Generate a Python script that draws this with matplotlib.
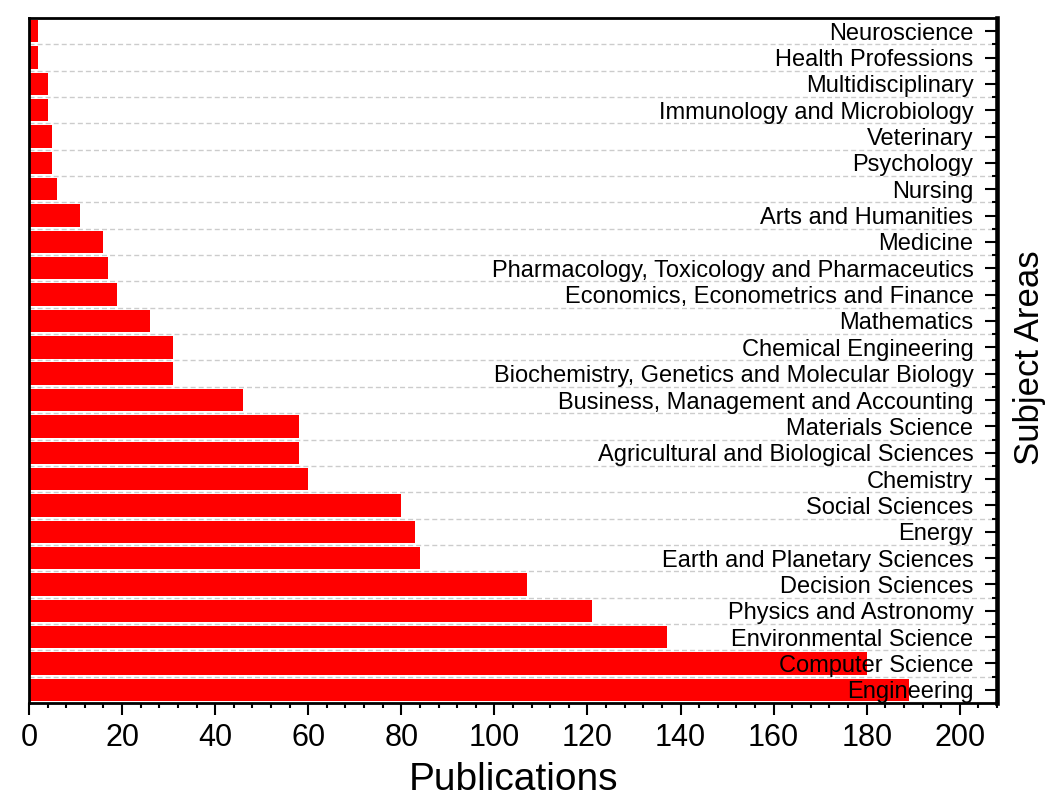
import matplotlib
matplotlib.use("Agg")
import matplotlib.pyplot as plt
from matplotlib.ticker import MultipleLocator, FixedLocator

plt.rcParams['font.family'] = ['Liberation Sans', 'DejaVu Sans']

categories = [
    "Neuroscience", "Health Professions", "Multidisciplinary",
    "Immunology and Microbiology", "Veterinary", "Psychology", "Nursing",
    "Arts and Humanities", "Medicine",
    "Pharmacology, Toxicology and Pharmaceutics",
    "Economics, Econometrics and Finance", "Mathematics",
    "Chemical Engineering", "Biochemistry, Genetics and Molecular Biology",
    "Business, Management and Accounting", "Materials Science",
    "Agricultural and Biological Sciences", "Chemistry", "Social Sciences",
    "Energy", "Earth and Planetary Sciences", "Decision Sciences",
    "Physics and Astronomy", "Environmental Science", "Computer Science",
    "Engineering",
]
publications = [2, 2, 4, 4, 5, 5, 6, 11, 16, 17, 19, 26, 31, 31, 46, 58, 58,
                60, 80, 83, 84, 107, 121, 137, 180, 189]
x_ticks = [0, 20, 40, 60, 80, 100, 120, 140, 160, 180, 200]

fig = plt.figure(figsize=(10.53, 8.05), dpi=100)
ax = fig.add_axes([29/1053, 1-703/805, (997-29)/1053, (703-18)/805])

n = len(categories)
ypos = list(range(n))[::-1]  # first category at top
ax.barh(ypos, publications, height=0.85, color='#FF0000', zorder=1)

ax.set_xlim(0, 208)
ax.set_ylim(-0.5, n - 0.5)

# dashed grid lines between bars
for b in range(n - 1):
    ax.axhline(b + 0.5, color='#cccccc', lw=1.0, ls=(0, (3.6, 2.2)), zorder=0.5)

ax.xaxis.set_major_locator(FixedLocator(x_ticks))
ax.xaxis.set_minor_locator(MultipleLocator(4))
ax.tick_params(axis='x', which='major', direction='out', length=8.6, width=1.5,
               labelsize=22, pad=6)
ax.tick_params(axis='x', which='minor', direction='out', length=3.6, width=1.5)

ax.yaxis.tick_right()
ax.set_yticks(ypos)
ax.set_yticklabels(categories)
ax.yaxis.set_minor_locator(FixedLocator([b + 0.5 for b in range(n - 1)]))
ax.tick_params(axis='y', which='major', direction='in', length=8.6, width=1.5,
               labelsize=17, pad=-17, right=True, left=False)
ax.tick_params(axis='y', which='minor', direction='in', length=3.6, width=1.5,
               right=True, left=False)
for lab in ax.get_yticklabels():
    lab.set_horizontalalignment('right')

for side in ['left', 'bottom', 'top']:
    ax.spines[side].set_linewidth(2)
ax.spines['right'].set_linewidth(3.3)

ax.set_xlabel("Publications", fontsize=28, va='top')
ax.xaxis.set_label_coords(0.5, -(762 - 703) / 685)
fig.text(1013/1053, 1 - 358/805, "Subject Areas", rotation=90, fontsize=25,
         ha='left', va='center')

fig.savefig("out.png", dpi=100)
